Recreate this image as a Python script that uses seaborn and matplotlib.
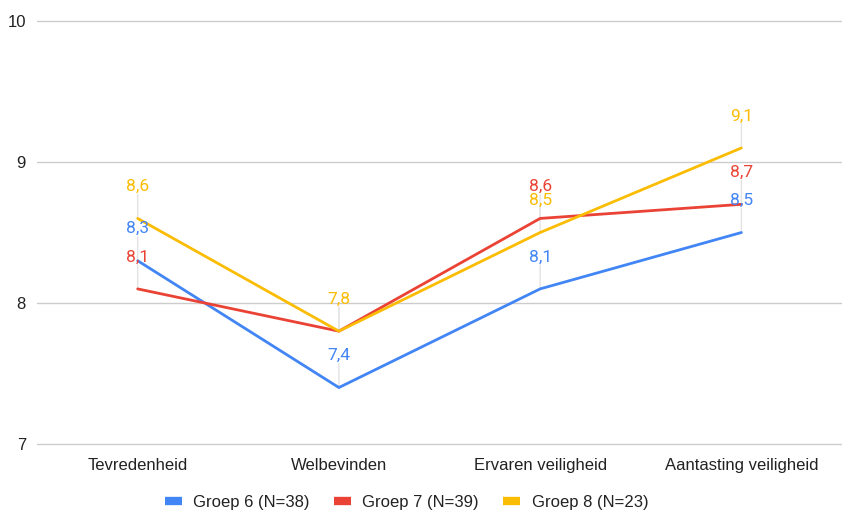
import pandas as pd
import matplotlib
matplotlib.use("Agg")
import matplotlib.pyplot as plt
import seaborn as sns
from matplotlib.lines import Line2D

# Data
categories = ["Tevredenheid", "Welbevinden", "Ervaren veiligheid", "Aantasting veiligheid"]
groep6 = [8.3, 7.4, 8.1, 8.5]
groep7 = [8.1, 7.8, 8.6, 8.7]
groep8 = [8.6, 7.8, 8.5, 9.1]
series_names = ["Groep 6 (N=38)", "Groep 7 (N=39)", "Groep 8 (N=23)"]
colors = ["#4285F4", "#EA4335", "#FBBC04"]
y_ticks = [7, 8, 9, 10]

all_vals = [groep6, groep7, groep8]
rows = []
for name, vals in zip(series_names, all_vals):
    for cat, v in zip(categories, vals):
        rows.append({"Categorie": cat, "Score": v, "Groep": name})
df = pd.DataFrame(rows)

sns.set_style("white")
plt.rcParams["font.family"] = ["Liberation Sans", "DejaVu Sans"]

fig = plt.figure(figsize=(8.42, 5.15), dpi=100)
ax = fig.add_axes([0.044, 0.138, 0.956, 0.821])

sns.lineplot(data=df, x="Categorie", y="Score", hue="Groep", palette=colors,
             sort=False, linewidth=2.0, legend=False, ax=ax, zorder=3)

ax.set_xlim(-0.5, len(categories) - 0.5)
ax.set_ylim(7, 10)
ax.set_yticks(y_ticks)
ax.set_yticklabels([str(t) for t in y_ticks])
ax.yaxis.grid(True, color="#cccccc", linewidth=1)
for gl in ax.get_ygridlines():
    gl.set_clip_on(False)
ax.xaxis.grid(False)
for s in ax.spines.values():
    s.set_visible(False)
ax.tick_params(axis="both", length=0, labelsize=12, colors="#222222")
ax.tick_params(axis="y", pad=8)
ax.tick_params(axis="x", pad=10)
ax.set_xlabel("")
ax.set_ylabel("")

# Data labels with faint leader lines
offset_px = 32
for k, (name, vals, c) in enumerate(zip(series_names, all_vals, colors)):
    for i, v in enumerate(vals):
        ax.annotate("", xy=(i, v), xytext=(0, offset_px - 8), textcoords="offset pixels",
                    arrowprops=dict(arrowstyle="-", color="#e3e3e3", lw=1, shrinkA=0, shrinkB=0),
                    zorder=1)
        # skip a label that a later series covers with the same value
        if any(other[i] == v for other in all_vals[k + 1:]):
            continue
        ax.annotate(f"{v:.1f}".replace(".", ","), xy=(i, v), xytext=(0, offset_px),
                    textcoords="offset pixels", ha="center", va="center",
                    color=c, fontsize=12.5, family=["Roboto", "DejaVu Sans"], zorder=4)

handles = [Line2D([0], [0], color=c, linewidth=6, solid_capstyle="butt") for c in colors]
fig.legend(handles, series_names, loc="center", bbox_to_anchor=(0.483, 0.025),
           ncol=3, frameon=False, fontsize=12, handlelength=1.0, columnspacing=1.45,
           handletextpad=0.7, labelcolor="#222222")

fig.savefig("out.png", dpi=100)
